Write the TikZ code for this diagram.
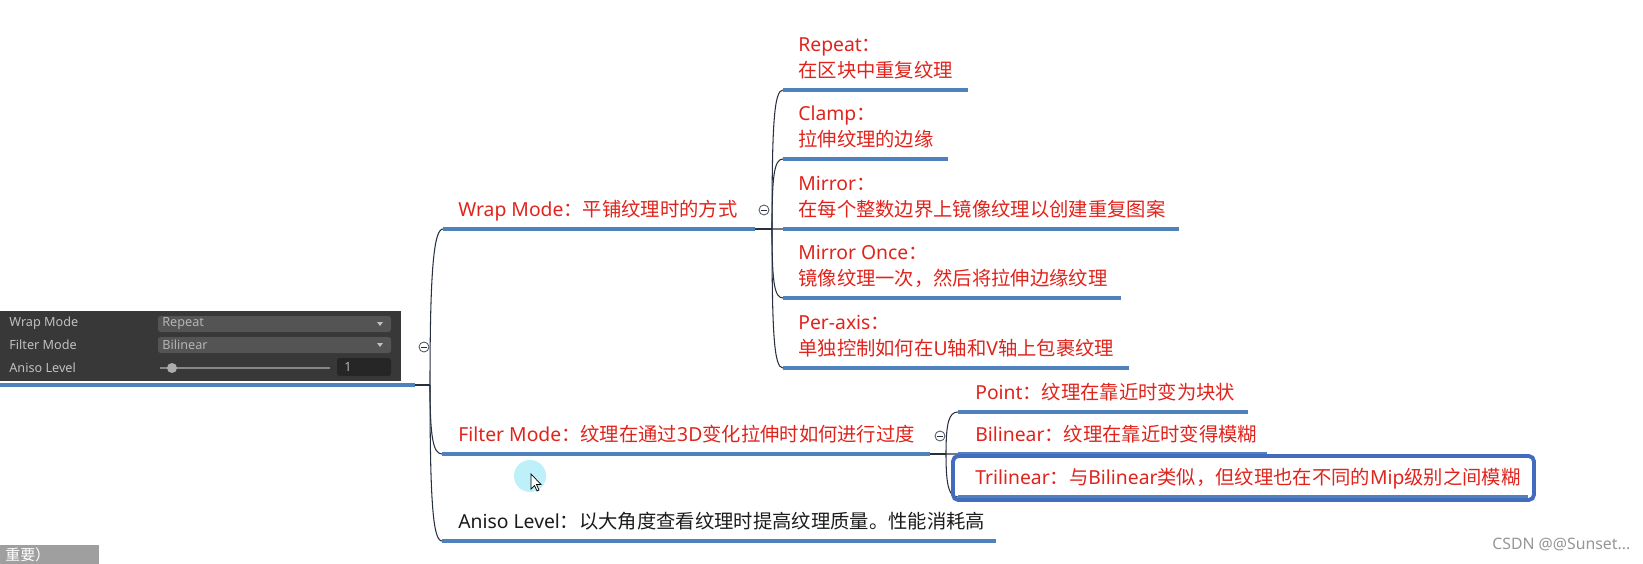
\documentclass[tikz,border=0pt]{standalone}
\usepackage{fontspec}
\setmainfont{Noto Sans CJK SC}
\newfontfamily\latinfont{Noto Sans}
\usetikzlibrary{calc}
\definecolor{MapRed}{RGB}{224,36,28}
\definecolor{MapBlue}{RGB}{79,129,189}
\definecolor{MapSel}{RGB}{66,108,190}
\definecolor{MapLine}{RGB}{40,48,64}
\definecolor{MapInk}{RGB}{28,28,28}
\definecolor{PanelBg}{RGB}{56,56,56}
\definecolor{PanelField}{RGB}{84,84,84}
\definecolor{PanelDark}{RGB}{38,38,38}
\definecolor{PanelText}{RGB}{192,192,192}
\definecolor{CursorRing}{RGB}{190,240,250}
\definecolor{MarkGray}{RGB}{150,150,150}
\newcommand{\en}[1]{{\latinfont #1}}

\begin{document}
\begin{tikzpicture}[
    x=0.02cm,y=-0.02cm,
    topic/.style={anchor=base west, inner sep=0pt, align=left, text=MapRed, font=\fontsize{11pt}{14.8pt}\selectfont},
    uline/.style={draw=MapBlue, line width=2.1pt},
    branch/.style={draw=MapLine, line width=0.6pt},
    curve/.style={branch, to path={.. controls ($(\tikztostart)!0.75!(\tikztostart |- \tikztotarget)$) and ($(\tikztotarget)+(-9,0)$) .. (\tikztotarget)}},
    fold/.style={circle, draw=MapLine!80, fill=white, line width=0.5pt, minimum size=0.2cm, inner sep=0pt,
      path picture={\draw[MapLine, line width=0.5pt] ([xshift=-1.8pt]path picture bounding box.center) -- ([xshift=1.8pt]path picture bounding box.center);}},
    field/.style={fill=PanelField, rounded corners=1.5pt},
    ptext/.style={anchor=west, inner sep=0pt, text=PanelText, font=\latinfont\fontsize{7.2pt}{8pt}\selectfont},
    selbox/.style={draw=MapSel, line width=2.2pt, rounded corners=3pt}
  ]
    \useasboundingbox[fill=white] (0,0) rectangle (1643,564);

    % inspector panel
    \fill[PanelBg] (0,311) rectangle (401,381);
    \fill[field] (158,316) rectangle (391,332);
    \fill[field] (158,337) rectangle (391,353);
    \fill[PanelDark, rounded corners=1.5pt] (337,358) rectangle (391,376);
    \draw[PanelField!70!white, line width=1pt] (160,368) -- (330,368);
    \fill[gray!65] (172,368) circle (0.1cm);
    \foreach \y in {324,345} {\fill[PanelText] (377,\y-2) -- (383,\y-2) -- (380,\y+2) -- cycle;}
    \node[ptext] (lbl-wrap) at (9,323) {Wrap Mode};
    \node[ptext] (lbl-filter) at (9,345) {Filter Mode};
    \node[ptext] (lbl-aniso) at (9,368) {Aniso Level};
    \node[ptext, text=PanelText!120] (val-wrap) at (162,324) {Repeat};
    \node[ptext, text=PanelText!120] (val-filter) at (162,345) {Bilinear};
    \node[ptext, text=PanelText!120] (val-aniso) at (344,367) {1};

    % junctions
    \coordinate (root-j) at (430,385);
    \coordinate (wrap-j) at (772,229);
    \coordinate (filter-j) at (946,454);

    % underline ends
    \foreach \name/\xa/\xb/\y in {root/0/415/385, wrap/443/755/229, filter/442/930/454, aniso/442/996/541,
        rep/783/968/90, clamp/783/948/159, mirror/783/1179/229, once/783/1121/298, axis/783/1129/368,
        point/958/1248/412, bil/958/1267/454, tri/958/1528/497} {
      \coordinate (\name-l) at (\xa,\y);
      \coordinate (\name-r) at (\xb,\y);
    }

    % branches
    \draw[branch] (root-r) -- (root-j);
    \draw[branch] (wrap-r) -- (wrap-j);
    \draw[branch] (filter-r) -- (filter-j);
    \foreach \a/\b in {root-j/wrap-l, root-j/filter-l, root-j/aniso-l,
        wrap-j/rep-l, wrap-j/clamp-l, wrap-j/mirror-l, wrap-j/once-l, wrap-j/axis-l,
        filter-j/point-l, filter-j/bil-l, filter-j/tri-l} {\draw[curve] (\a) to (\b);}

    \foreach \name in {root,wrap,filter,aniso,rep,clamp,mirror,once,axis,point,bil,tri} {\draw[uline] (\name-l) -- (\name-r);}

    % topics
    \node[topic] (wrap) at (458,216.5) {\en{Wrap Mode}：平铺纹理时的方式};
    \node[topic] (filter) at (458,441.5) {\en{Filter Mode}：纹理在通过\en{3D}变化拉伸时如何进行过度};
    \node[topic, text=MapInk] (aniso) at (458,528.5) {\en{Aniso Level}：以大角度查看纹理时提高纹理质量。性能消耗高};
    \node[topic] (rep) at (798,77.5) {\en{Repeat}：\\在区块中重复纹理};
    \node[topic] (clamp) at (798,146.5) {\en{Clamp}：\\拉伸纹理的边缘};
    \node[topic] (mirror) at (798,216.5) {\en{Mirror}：\\在每个整数边界上镜像纹理以创建重复图案};
    \node[topic] (once) at (798,285.5) {\en{Mirror Once}：\\镜像纹理一次，然后将拉伸边缘纹理};
    \node[topic] (axis) at (798,355.5) {\en{Per-axis}：\\单独控制如何在\en{U}轴和\en{V}轴上包裹纹理};
    \node[topic] (point) at (975,399.5) {\en{Point}：纹理在靠近时变为块状};
    \node[topic] (bil) at (975,441.5) {\en{Bilinear}：纹理在靠近时变得模糊};
    \node[topic] (tri) at (975,484.5) {\en{Trilinear}：与\en{Bilinear}类似，但纹理也在不同的\en{Mip}级别之间模糊};
    \draw[selbox] (953,456) rectangle (1534,500);

    \node[fold] (root-fold) at (424,347) {};
    \node[fold] (wrap-fold) at (764,210) {};
    \node[fold] (filter-fold) at (940,436) {};

    % cursor
    \fill[CursorRing] (530,476) circle (0.32cm);
    \draw[fill=white, line width=0.4pt] (531,474) -- ++(0,15) -- ++(3.5,-3.5) -- ++(2.5,5.5) -- ++(2,-1) -- ++(-2.5,-5.5) -- ++(4.5,0) -- cycle;

    % corner tag and watermark
    \fill[gray!75] (0,545) rectangle (99,564);
    \node[anchor=base west, inner sep=0pt, text=white, font=\fontsize{8.5pt}{10pt}\selectfont] (tag) at (5,560) {重要）};
    \node[anchor=base west, inner sep=0pt, text=MarkGray, font=\latinfont\fontsize{9pt}{10pt}\selectfont] (mark) at (1492,549) {CSDN @@Sunset...};
  \end{tikzpicture}
\end{document}
